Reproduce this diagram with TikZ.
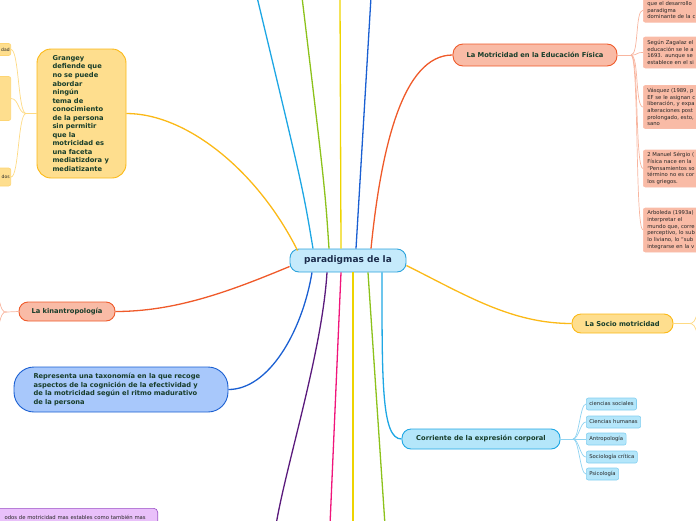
\documentclass[tikz,border=0pt]{standalone}
\usepackage{fontspec}
\setmainfont{DejaVu Sans}
\usetikzlibrary{positioning}
\definecolor{cenfill}{HTML}{C5EAFB}
\definecolor{cenline}{HTML}{2CA3DC}
\definecolor{navy}{HTML}{1B2C4B}
\definecolor{txtgreen}{HTML}{173D2A}
\definecolor{ylwfill}{HTML}{FEDE8E}
\definecolor{ylwline}{HTML}{FBB917}
\definecolor{salfill}{HTML}{F9BBA6}
\definecolor{salline}{HTML}{EF5A2A}
\definecolor{bluefill}{HTML}{A8C8FB}
\definecolor{blueline}{HTML}{1A5FD2}
\definecolor{cyanfill}{HTML}{B4E6FA}
\definecolor{cyanline}{HTML}{1EA7E4}
\definecolor{purfill}{HTML}{E9C0FA}
\definecolor{purline}{HTML}{9A4FC6}
\definecolor{purdark}{HTML}{5A1A7C}
\definecolor{pinkline}{HTML}{F0157B}
\definecolor{goldline}{HTML}{EED400}
\definecolor{greenline}{HTML}{8CC21B}

\begin{document}
\begin{tikzpicture}[x=1pt,y=-1pt,
        topic/.style={draw,line width=0.9pt,font=\bfseries\fontsize{6.7}{8.55}\selectfont,
                      text=txtgreen,inner sep=0pt},
        leaf/.style={draw,line width=0.6pt,rounded corners=2pt,font=\fontsize{5.3}{6.7}\selectfont,
                     text=black!85,inner xsep=4pt,inner ysep=0pt},
        br/.style={line width=1.3pt},
        twig/.style={line width=0.7pt}]
    \useasboundingbox (0,0) rectangle (696,520);
    \clip (0,0) rectangle (696,520);
    % centre
    \node[topic,fill=cenfill,draw=cenline,rounded corners=9pt,minimum width=116pt,minimum height=23pt,
          text=navy,font=\bfseries\fontsize{9}{10}\selectfont] (c) at (348,260.5) {paradigmas de la};
    % main topics
    \node[topic,fill=ylwfill,draw=ylwline,rounded corners=14pt,minimum width=89pt,minimum height=129pt,
          text width=58pt,align=left] (gr) at (81.5,113.5)
          {Grangey\\defiende que\\no se puede\\abordar\\ningún\\tema de\\conocimiento\\de la persona\\sin permitir\\que la\\motricidad es\\una faceta\\mediatizdora y\\mediatizante};
    \node[topic,fill=salfill,draw=salline,rounded corners=10pt,minimum width=164pt,minimum height=22pt] (mo) at (535,55) {La Motricidad en la Educación Física};
    \node[topic,fill=ylwfill,draw=ylwline,rounded corners=9pt,minimum width=101pt,minimum height=19pt] (so) at (622.5,323.5) {La Socio motricidad};
    \node[topic,fill=cyanfill,draw=cyanline,rounded corners=9pt,minimum width=158pt,minimum height=20pt] (co) at (481,439) {Corriente de la expresión corporal};
    \node[topic,fill=salfill,draw=salline,rounded corners=9pt,minimum width=96pt,minimum height=19pt] (ki) at (67,311.5) {La kinantropología};
    \node[topic,fill=bluefill,draw=blueline,rounded corners=20pt,minimum width=214pt,minimum height=45pt,
          text width=175pt,align=left] (ta) at (121,389.5)
          {Representa una taxonomía en la que recoge\\aspectos de la cognición de la efectividad y\\de la motricidad según el ritmo madurativo\\de la persona};
    \node[leaf,fill=purfill,draw=purline,rounded corners=4pt,anchor=north east,text width=190pt,align=right,
          minimum height=19pt,inner xsep=12pt] (pu) at (158,508) {odos de motricidad mas estables como también mas};
    % free ends off the page
    \coordinate (t1) at (257,-3); \coordinate (t2) at (302,-3);
    \coordinate (t3) at (340,-3); \coordinate (t4) at (371,-3);
    \coordinate (b1) at (276,525); \coordinate (b2) at (330,525);
    \coordinate (b3) at (353,525); \coordinate (b4) at (385,525);
    % main branches
    \draw[br,ylwline] ([xshift=8pt,yshift=-2pt]c.north west) .. controls +(-40,-80) and +(60,0) .. (gr.east);
    \draw[br,salline] ([xshift=23pt]c.north) .. controls +(10,-100) and +(-50,0) .. (mo.west);
    \draw[br,ylwline] ([yshift=-5pt]c.east) .. controls +(60,30) and +(-60,0) .. (so.west);
    \draw[br,cyanline] ([xshift=34pt]c.south) .. controls +(0,110) and +(-20,0) .. (co.west);
    \draw[br,salline] ([yshift=-6pt]c.west) .. controls +(-60,25) and +(60,0) .. (ki.east);
    \draw[br,blueline] ([xshift=-36pt]c.south) .. controls +(-10,60) and +(40,0) .. (ta.east);
    \draw[br,cyanline] ([xshift=-35pt]c.north) .. controls +(-10,-60) .. (t1);
    \draw[br,greenline] ([xshift=-19pt]c.north) .. controls +(-4,-60) .. (t2);
    \draw[br,goldline] ([xshift=-7pt]c.north) -- (t3);
    \draw[br,blueline] ([xshift=8pt]c.north) -- (t4);
    \draw[br,purdark] ([xshift=-21pt]c.south) .. controls +(-5,80) and +(10,-60) .. (b1);
    \draw[br,pinkline] ([xshift=-7pt]c.south) -- (b2);
    \draw[br,goldline] ([xshift=5pt]c.south) -- (b3);
    \draw[br,greenline] ([xshift=20pt]c.south) -- (b4);
    % Grangey leaves
    \node[leaf,fill=ylwfill,draw=ylwline!60,anchor=east,text width=38pt,minimum height=12pt,align=right,
          inner xsep=1pt,font=\fontsize{4.5}{6}\selectfont] (g1) at (11,49.5) {dad};
    \node[leaf,fill=ylwfill,draw=ylwline!60,anchor=east,minimum width=40pt,minimum height=44pt] (g2) at (11,98.5) {};
    \node[leaf,fill=ylwfill,draw=ylwline!60,anchor=east,text width=38pt,minimum height=18pt,align=right,
          inner xsep=1pt,font=\fontsize{4.5}{6}\selectfont] (g3) at (11,177) {dos};
    \coordinate (gf) at (26,113.5);
    \draw[twig,ylwfill!90!ylwline] (gr.west) -- (gf);
    \foreach \g in {g1,g2,g3}
        \draw[twig,ylwfill!90!ylwline] (gf) .. controls +(-8,0) and +(8,0) .. (\g.east);
    % Motricidad leaves
    \node[leaf,fill=salfill,draw=salline!40,anchor=south west,text width=70pt,align=left,minimum height=24pt] (m1) at (643,22.5)
          {que el desarrollo\\paradigma\\dominante de la c};
    \node[leaf,fill=salfill,draw=salline!40,anchor=west,text width=70pt,align=left,minimum height=31pt] (m2) at (643,52.5)
          {Según Zagalaz el\\educación se le a\\1693. aunque se\\establece en el si};
    \node[leaf,fill=salfill,draw=salline!40,anchor=west,text width=70pt,align=left,minimum height=43pt] (m3) at (643,107)
          {Vásquez (1989, p\\EF se le asignan c\\liberación, y expa\\alteraciones post\\prolongado, esto,\\sano};
    \node[leaf,fill=salfill,draw=salline!40,anchor=west,text width=70pt,align=left,minimum height=37pt] (m4) at (643,168.5)
          {2 Manuel Sérgio (\\Física nace en la\\``Pensamientos so\\término no es cor\\los griegos.};
    \node[leaf,fill=salfill,draw=salline!40,anchor=west,text width=70pt,align=left,minimum height=44pt] (m5) at (643,230)
          {Arboleda (1993a)\\interpretar el\\mundo que, corre\\perceptivo, lo sub\\lo liviano, lo ``sub\\integrarse en la v};
    \coordinate (mf) at (631,55);
    \draw[twig,salline!45] (mo.east) -- (mf);
    \foreach \m in {m1,m2,m3,m4,m5}
        \draw[twig,salline!45] (mf) .. controls +(8,0) and +(-8,0) .. (\m.west);
    % Socio motricidad leaves
    \coordinate (sf) at (688,323.5); \coordinate (s1) at (700,306); \coordinate (s2) at (700,341);
    \draw[twig,ylwfill!90!ylwline] (so.east) -- (sf);
    \draw[twig,ylwfill!90!ylwline] (sf) .. controls +(6,0) .. (s1);
    \draw[twig,ylwfill!90!ylwline] (sf) .. controls +(6,0) .. (s2);
    % kinantropologia leaves
    \coordinate (kf) at (7,312); \coordinate (k1) at (-4,288); \coordinate (k2) at (-4,336);
    \draw[twig,salline!45] (ki.west) -- (kf);
    \draw[twig,salline!45] (kf) .. controls +(-5,0) .. (k1);
    \draw[twig,salline!45] (kf) .. controls +(-5,0) .. (k2);
    % expresion corporal leaves
    \node[leaf,fill=cyanfill,draw=cyanline!55,anchor=west,minimum height=12pt,inner xsep=3pt] (e1) at (586,404) {ciencias sociales};
    \node[leaf,fill=cyanfill,draw=cyanline!55,anchor=west,minimum height=12pt,inner xsep=3pt] (e2) at (586,422) {Ciencias humanas};
    \node[leaf,fill=cyanfill,draw=cyanline!55,anchor=west,minimum height=12pt,inner xsep=3pt] (e3) at (586,439) {Antropología};
    \node[leaf,fill=cyanfill,draw=cyanline!55,anchor=west,minimum height=12pt,inner xsep=3pt] (e4) at (586,457) {Sociología crítica};
    \node[leaf,fill=cyanfill,draw=cyanline!55,anchor=west,minimum height=12pt,inner xsep=3pt] (e5) at (586,474) {Psicología};
    \coordinate (ef) at (573,439);
    \draw[twig,cyanline!50] (co.east) -- (ef);
    \foreach \e in {e1,e2,e3,e4,e5}
        \draw[twig,cyanline!50] (ef) .. controls +(6,0) and +(-6,0) .. (\e.west);
\end{tikzpicture}
\end{document}
